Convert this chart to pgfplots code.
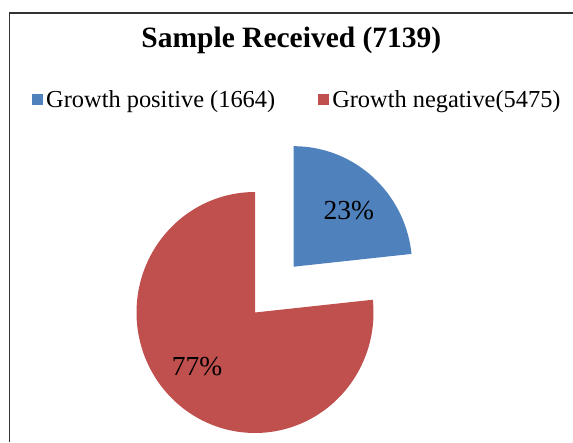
\documentclass[border=0pt]{standalone}
\usepackage{fontspec}
\setmainfont{Liberation Serif}
\usepackage{pgfplots}
\usepackage{pgfplotstable}
\pgfplotsset{compat=1.18}
\definecolor{piepos}{HTML}{4F81BD}
\definecolor{pieneg}{HTML}{C0504D}
\pgfplotstableread{
label value
positive 1664
negative 5475
}\datatable
\pgfplotstablegetelem{0}{value}\of\datatable
\let\vpos\pgfplotsretval
\pgfplotstablegetelem{1}{value}\of\datatable
\let\vneg\pgfplotsretval
\pgfmathsetmacro\fracpos{\vpos/(\vpos+\vneg)}
\pgfmathsetmacro\angsplit{90-360*\fracpos}
\pgfmathsetmacro\angend{90-360}
\begin{document}
\begin{tikzpicture}
\begin{axis}[
  scale only axis, width=573pt, height=442pt,
  xmin=0, xmax=573, ymin=0, ymax=442,
  hide axis, clip=false,
  legend columns=2,
  legend style={at={(axis cs:32,342.5)}, anchor=west, draw=none, fill=none,
    inner sep=0pt, font=\fontsize{24.4}{28}\selectfont,
    nodes={inner xsep=3pt, inner ysep=0pt},
    /tikz/every even column/.append style={column sep=40pt}},
  legend image code/.code={\fill[#1,draw=none] (0pt,-5.5pt) rectangle (11pt,5.5pt);},
]
\addplot[fill=piepos, draw=none, domain=\angsplit:90, samples=90, variable=\t]
  ({293.7+118.5*cos(\t)}, {175.3+120.5*sin(\t)}) -- (axis cs:293.7,175.3) -- cycle;
\addlegendentry{Growth positive (1664)}
\addplot[fill=pieneg, draw=none, domain=\angend:\angsplit, samples=200, variable=\t]
  ({255+118.5*cos(\t)}, {129.5+120.5*sin(\t)}) -- (axis cs:255,129.5) -- cycle;
\addlegendentry{Growth negative(5475)}
\draw[line width=1.5pt, black!80] (axis cs:9.5,0) -- (axis cs:9.5,429) -- (axis cs:573,429);
\node[anchor=base, font=\fontsize{29.5}{34}\selectfont\bfseries] at (axis cs:291.4,394) {Sample Received (7139)};
\node[font=\fontsize{27.5}{32}\selectfont] at (axis cs:348.7,231) {23\%};
\node[font=\fontsize{27.5}{32}\selectfont] at (axis cs:197,75) {77\%};
\end{axis}
\pgfresetboundingbox
\path[use as bounding box] (current axis.south west) rectangle (current axis.north east);
\end{tikzpicture}
\end{document}
